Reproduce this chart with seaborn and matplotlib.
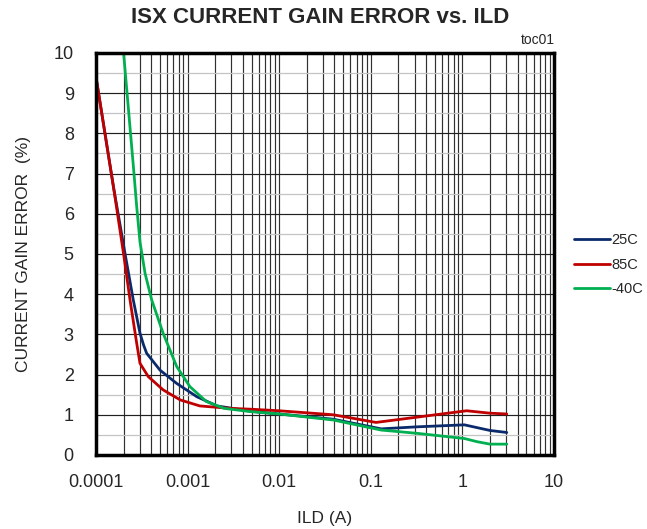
import numpy as np
import pandas as pd
import matplotlib
matplotlib.use("Agg")
import matplotlib.pyplot as plt
import seaborn as sns
from matplotlib.ticker import LogLocator, FixedLocator, NullFormatter

sns.set_style("white")
plt.rcParams['font.family'] = ['Liberation Sans', 'DejaVu Sans']

# Data
x_25 = [0.0001, 0.000155, 0.000207, 0.000255, 0.000302, 0.00033, 0.000357, 0.0005, 0.00076, 0.00126, 0.0021, 0.0048, 0.01, 0.039, 0.13, 0.316, 1.05, 2.0, 3.05]
y_25 = [9.4, 6.67, 5.02, 3.86, 3.03, 2.74, 2.53, 2.11, 1.78, 1.45, 1.22, 1.09, 1.02, 0.89, 0.65, 0.70, 0.75, 0.61, 0.56]

x_85 = [0.0001, 0.000155, 0.0002, 0.000235, 0.000278, 0.000302, 0.000372, 0.00054, 0.00083, 0.00136, 0.0029, 0.0048, 0.01, 0.039, 0.114, 0.316, 1.11, 2.0, 3.05]
y_85 = [9.4, 6.67, 5.0, 3.86, 2.78, 2.28, 1.95, 1.62, 1.37, 1.22, 1.16, 1.14, 1.1, 1.0, 0.81, 0.94, 1.10, 1.04, 1.02]

x_m40 = [0.0002, 0.000256, 0.000278, 0.000302, 0.000343, 0.000405, 0.00054, 0.00076, 0.00106, 0.0016, 0.0025, 0.0048, 0.01, 0.039, 0.13, 0.316, 1.05, 1.45, 2.0, 3.05]
y_m40 = [10.0, 7.17, 6.18, 5.3, 4.52, 3.86, 3.03, 2.2, 1.7, 1.33, 1.16, 1.08, 1.02, 0.87, 0.62, 0.54, 0.41, 0.33, 0.27, 0.27]

series_names = ["25C", "85C", "-40C"]
colors = ["#0B2A6B", "#C00000", "#00B050"]

frames = []
for name, xs, ys in zip(series_names, [x_25, x_85, x_m40], [y_25, y_85, y_m40]):
    frames.append(pd.DataFrame({"ILD": xs, "err": ys, "temp": name}))
df = pd.concat(frames, ignore_index=True)

fig = plt.figure(figsize=(6.47, 5.29), dpi=100)
ax = fig.add_axes([0.1484, 0.1399, 0.7079, 0.7600])

sns.lineplot(data=df, x="ILD", y="err", hue="temp", hue_order=series_names,
             palette=colors, linewidth=2.0, sort=False, estimator=None, ax=ax)
for ln in ax.get_lines():
    ln.set_solid_joinstyle("round")
    ln.set_solid_capstyle("round")

ax.set_xscale("log")
ax.set_xlim(0.0001, 10)
ax.set_ylim(0, 10)

ax.xaxis.set_minor_locator(LogLocator(base=10, subs=np.arange(2, 10), numticks=100))
ax.xaxis.set_minor_formatter(NullFormatter())
ax.set_xticks([0.0001, 0.001, 0.01, 0.1, 1, 10])
ax.set_xticklabels(["0.0001", "0.001", "0.01", "0.1", "1", "10"])
ax.yaxis.set_major_locator(FixedLocator(np.arange(0, 11, 1)))
ax.yaxis.set_minor_locator(FixedLocator(np.arange(0.5, 10, 1)))

ax.grid(True, which="major", axis="x", color="#303030", linewidth=0.85)
ax.grid(True, which="minor", axis="x", color="#303030", linewidth=0.85)
ax.grid(True, which="major", axis="y", color="#202020", linewidth=0.85)
ax.grid(True, which="minor", axis="y", color="#c4c4c4", linewidth=0.9)
ax.set_axisbelow(True)

ax.tick_params(axis="both", which="both", length=0, labelsize=13)
ax.tick_params(axis="x", which="major", pad=14)
ax.tick_params(axis="y", which="major", pad=16)
for s in ax.spines.values():
    s.set_linewidth(2.5)
    s.set_color("black")

ax.set_xlabel("ILD (A)", fontsize=12.5, labelpad=14)
ax.set_ylabel("CURRENT GAIN ERROR  (%)", fontsize=12.5, labelpad=16)
fig.text(0.495, 0.966, "ISX CURRENT GAIN ERROR vs. ILD", ha="center", va="center",
         fontsize=16, fontweight="bold")
fig.text(0.857, 0.924, "toc01", ha="right", va="center", fontsize=10)

handles, labels = ax.get_legend_handles_labels()
ax.legend(handles, labels, loc="center left", bbox_to_anchor=(1.03, 0.473),
          frameon=False, fontsize=10.5, handlelength=2.5, handletextpad=0.1,
          labelspacing=0.72, borderaxespad=0)

fig.savefig("out.png", dpi=100)
